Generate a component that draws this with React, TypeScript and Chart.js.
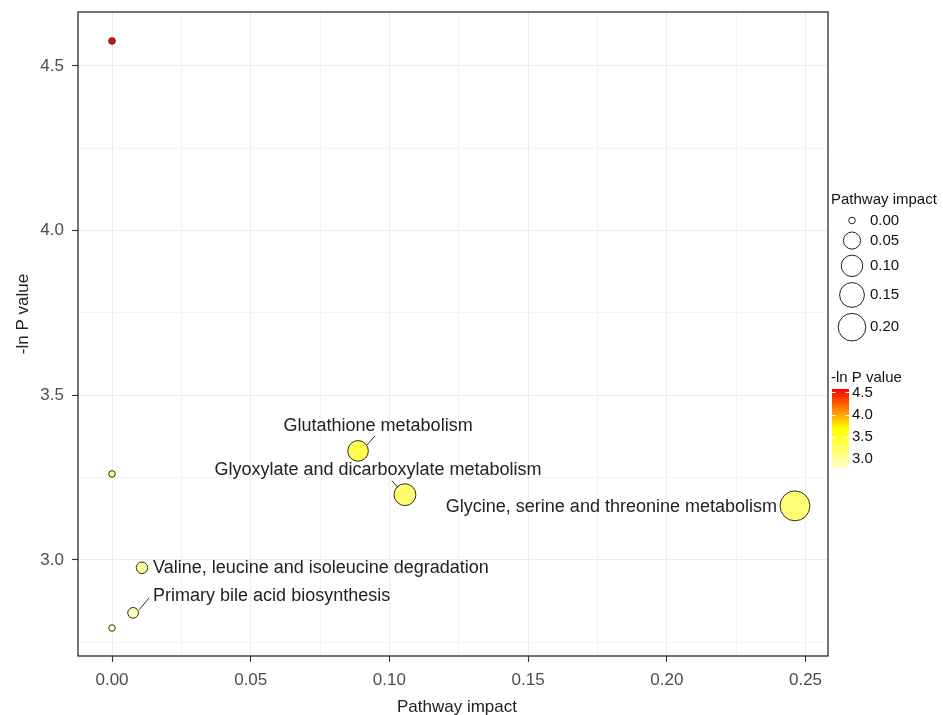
import React, { useEffect, useRef } from 'react';
import { Chart, registerables } from 'chart.js';

Chart.register(...registerables);

// ---------- data ----------
const pathways = [
  'Pathway A',
  'Pathway B',
  'Pathway C',
  'Valine, leucine and isoleucine degradation',
  'Primary bile acid biosynthesis',
  'Glutathione metabolism',
  'Glyoxylate and dicarboxylate metabolism',
  'Glycine, serine and threonine metabolism',
];
const pathwayImpact = [0, 0, 0, 0.0108, 0.0076, 0.0887, 0.1056, 0.2462];
const negLnP = [4.576, 3.261, 2.793, 2.976, 2.839, 3.331, 3.198, 3.164];
const labelled = [false, false, false, true, true, true, true, true];

const xMajorTicks = [0, 0.05, 0.1, 0.15, 0.2, 0.25];
const xTickLabels = ['0.00', '0.05', '0.10', '0.15', '0.20', '0.25'];
const xMinorTicks = [0.025, 0.075, 0.125, 0.175, 0.225];
const yMajorTicks = [3.0, 3.5, 4.0, 4.5];
const yTickLabels = ['3.0', '3.5', '4.0', '4.5'];
const yMinorTicks = [2.75, 3.25, 3.75, 4.25];

const sizeLegendValues = [0, 0.05, 0.1, 0.15, 0.2];
const sizeLegendLabels = ['0.00', '0.05', '0.10', '0.15', '0.20'];
const colorLegendTicks = [3.0, 3.5, 4.0, 4.5];
const colorLegendLabels = ['3.0', '3.5', '4.0', '4.5'];

// ---------- styling ----------
const X_MIN = -0.01226;
const X_MAX = 0.2581;
const Y_MIN = 2.708;
const Y_MAX = 4.664;
const FONT = "'Liberation Sans', Arial, Helvetica, sans-serif";

// label placement relative to each labelled point (pixels)
const labelPlacement: Record<string, { dx: number; dy: number; align: CanvasTextAlign; line?: number[] }> = {
  'Glutathione metabolism': { dx: 20, dy: -25, align: 'center', line: [9, -6, 17, -15] },
  'Glyoxylate and dicarboxylate metabolism': { dx: -27, dy: -25, align: 'center', line: [-7, -7, -13, -14] },
  'Glycine, serine and threonine metabolism': { dx: -18, dy: 1, align: 'right' },
  'Valine, leucine and isoleucine degradation': { dx: 11, dy: 0, align: 'left' },
  'Primary bile acid biosynthesis': { dx: 20, dy: -17, align: 'left', line: [6, -3, 16, -15] },
};

const radiusFor = (v: number) => 3.3 + 23.5 * Math.sqrt(v);

const pMin = Math.min(...negLnP);
const pMax = Math.max(...negLnP);
const colorStops: [number, number[]][] = [
  [0, [255, 255, 200]],
  [0.5, [255, 255, 0]],
  [1, [255, 0, 0]],
];
function colorFor(v: number) {
  const t = Math.max(0, Math.min(1, (v - pMin) / (pMax - pMin)));
  for (let i = 0; i < colorStops.length - 1; i++) {
    const [t0, c0] = colorStops[i];
    const [t1, c1] = colorStops[i + 1];
    if (t <= t1) {
      const f = (t - t0) / (t1 - t0);
      const c = c0.map((a, k) => Math.round(a + (c1[k] - a) * f));
      return `rgb(${c[0]},${c[1]},${c[2]})`;
    }
  }
  return 'rgb(255,0,0)';
}

const near = (a: number, b: number) => Math.abs(a - b) < 1e-9;
const isMajor = (list: number[], v: number) => list.some((m) => near(m, v));

const overlayPlugin = {
  id: 'overlay',
  afterDatasetsDraw(chart: any) {
    const { ctx, chartArea: ca, scales } = chart;
    ctx.save();
    // labels and leader lines
    ctx.font = `18px ${FONT}`;
    ctx.fillStyle = '#222';
    ctx.textBaseline = 'middle';
    pathways.forEach((name, i) => {
      if (!labelled[i]) return;
      const p = labelPlacement[name];
      const px = scales.x.getPixelForValue(pathwayImpact[i]);
      const py = scales.y.getPixelForValue(negLnP[i]);
      if (p.line) {
        ctx.strokeStyle = '#333';
        ctx.lineWidth = 1;
        ctx.beginPath();
        ctx.moveTo(px + p.line[0], py + p.line[1]);
        ctx.lineTo(px + p.line[2], py + p.line[3]);
        ctx.stroke();
      }
      ctx.textAlign = p.align;
      ctx.fillText(name, px + p.dx, py + p.dy);
    });
    // panel border
    ctx.strokeStyle = '#1a1a1a';
    ctx.lineWidth = 1.2;
    ctx.strokeRect(ca.left, ca.top, ca.right - ca.left, ca.bottom - ca.top);

    // axis titles
    ctx.fillStyle = '#222';
    ctx.font = `17px ${FONT}`;
    ctx.textAlign = 'center';
    ctx.textBaseline = 'alphabetic';
    ctx.fillText('Pathway impact', 457, 712);
    ctx.save();
    ctx.translate(28, 314);
    ctx.rotate(-Math.PI / 2);
    ctx.fillText('-ln P value', 0, 0);
    ctx.restore();

    // size legend
    ctx.font = `15px ${FONT}`;
    ctx.textAlign = 'left';
    ctx.textBaseline = 'middle';
    ctx.fillStyle = '#111';
    ctx.fillText('Pathway impact', 831, 200);
    let y = 212;
    let prevH = 0;
    sizeLegendValues.forEach((v, i) => {
      const r = radiusFor(v);
      const h = Math.max(17, 2 * r + 6);
      const cy = i === 0 ? y + h / 2 : y + prevH / 2 + h / 2;
      y = cy;
      prevH = h;
      ctx.beginPath();
      ctx.arc(852, cy, r, 0, Math.PI * 2);
      ctx.fillStyle = '#fff';
      ctx.fill();
      ctx.strokeStyle = '#222';
      ctx.lineWidth = 1;
      ctx.stroke();
      ctx.fillStyle = '#111';
      ctx.fillText(sizeLegendLabels[i], 870, cy);
    });

    // colour legend
    ctx.fillText('-ln P value', 831, 378);
    const barL = 832, barR = 849, barTop = 389, barBot = 468;
    const yFor = (v: number) => barBot - ((v - pMin) / (pMax - pMin)) * (barBot - barTop);
    for (let yy = barTop; yy < barBot; yy++) {
      const v = pMin + ((barBot - yy - 0.5) / (barBot - barTop)) * (pMax - pMin);
      ctx.fillStyle = colorFor(v);
      ctx.fillRect(barL, yy, barR - barL, 1);
    }
    ctx.strokeStyle = '#fff';
    ctx.lineWidth = 1;
    colorLegendTicks.forEach((v, i) => {
      const ty = Math.round(yFor(v)) + 0.5;
      ctx.beginPath();
      ctx.moveTo(barL, ty);
      ctx.lineTo(barL + 3.5, ty);
      ctx.moveTo(barR - 3.5, ty);
      ctx.lineTo(barR, ty);
      ctx.stroke();
      ctx.fillStyle = '#111';
      ctx.fillText(colorLegendLabels[i], 852, yFor(v));
    });
    ctx.restore();
  },
};

export default function App() {
  const ref = useRef<HTMLCanvasElement>(null);
  useEffect(() => {
    const canvas = ref.current;
    if (!canvas) return;
    const allX = [...xMajorTicks, ...xMinorTicks].filter((v) => v >= X_MIN && v <= X_MAX).sort((a, b) => a - b);
    const allY = [...yMajorTicks, ...yMinorTicks].filter((v) => v >= Y_MIN && v <= Y_MAX).sort((a, b) => a - b);
    const chart = new Chart(canvas, {
      type: 'bubble',
      data: {
        datasets: [
          {
            label: 'pathways',
            data: pathwayImpact.map((v, i) => ({ x: v, y: negLnP[i], r: radiusFor(v) })),
            backgroundColor: negLnP.map(colorFor),
            borderColor: '#2b2b2b',
            borderWidth: 1,
            hoverRadius: 0,
            hoverBorderWidth: 1,
          },
        ],
      },
      options: {
        responsive: false,
        animation: false,
        events: [],
        layout: { autoPadding: false, padding: { left: 0, top: 12, right: 115, bottom: 0 } },
        plugins: { legend: { display: false }, tooltip: { enabled: false } },
        scales: {
          x: {
            type: 'linear',
            min: X_MIN,
            max: X_MAX,
            afterFit: (s: any) => {
              s.height = 59;
              s.paddingLeft = 0;
              s.paddingRight = 0;
            },
            afterBuildTicks: (s: any) => {
              s.ticks = allX.map((v) => ({ value: v }));
            },
            ticks: {
              autoSkip: false,
              maxRotation: 0,
              padding: 8,
              color: '#4D4D4D',
              font: { family: FONT, size: 17 },
              callback: (v: any) => {
                const idx = xMajorTicks.findIndex((m) => near(m, Number(v)));
                return idx >= 0 ? xTickLabels[idx] : '';
              },
            },
            grid: {
              color: (c: any) => (isMajor(xMajorTicks, c.tick?.value) ? '#EBEBEB' : '#F4F4F4'),
              lineWidth: 1,
              tickLength: 6,
              tickColor: (c: any) => (isMajor(xMajorTicks, c.tick?.value) ? '#333' : 'rgba(0,0,0,0)'),
              tickWidth: 1.1,
            },
            border: { display: false },
          },
          y: {
            type: 'linear',
            min: Y_MIN,
            max: Y_MAX,
            afterFit: (s: any) => {
              s.width = 78;
              s.paddingTop = 0;
              s.paddingBottom = 0;
            },
            afterBuildTicks: (s: any) => {
              s.ticks = allY.map((v) => ({ value: v }));
            },
            ticks: {
              autoSkip: false,
              padding: 8,
              color: '#4D4D4D',
              font: { family: FONT, size: 17 },
              callback: (v: any) => {
                const idx = yMajorTicks.findIndex((m) => near(m, Number(v)));
                return idx >= 0 ? yTickLabels[idx] : '';
              },
            },
            grid: {
              color: (c: any) => (isMajor(yMajorTicks, c.tick?.value) ? '#EBEBEB' : '#F4F4F4'),
              lineWidth: 1,
              tickLength: 6,
              tickColor: (c: any) => (isMajor(yMajorTicks, c.tick?.value) ? '#333' : 'rgba(0,0,0,0)'),
              tickWidth: 1.1,
            },
            border: { display: false },
          },
        },
      } as any,
      plugins: [overlayPlugin],
    });
    return () => chart.destroy();
  }, []);
  return (
    <div style={{ position: 'fixed', left: 0, top: 0, width: 943, height: 715, background: '#fff' }}>
      <canvas ref={ref} width={943} height={715} style={{ width: 943, height: 715, display: 'block' }} />
    </div>
  );
}
